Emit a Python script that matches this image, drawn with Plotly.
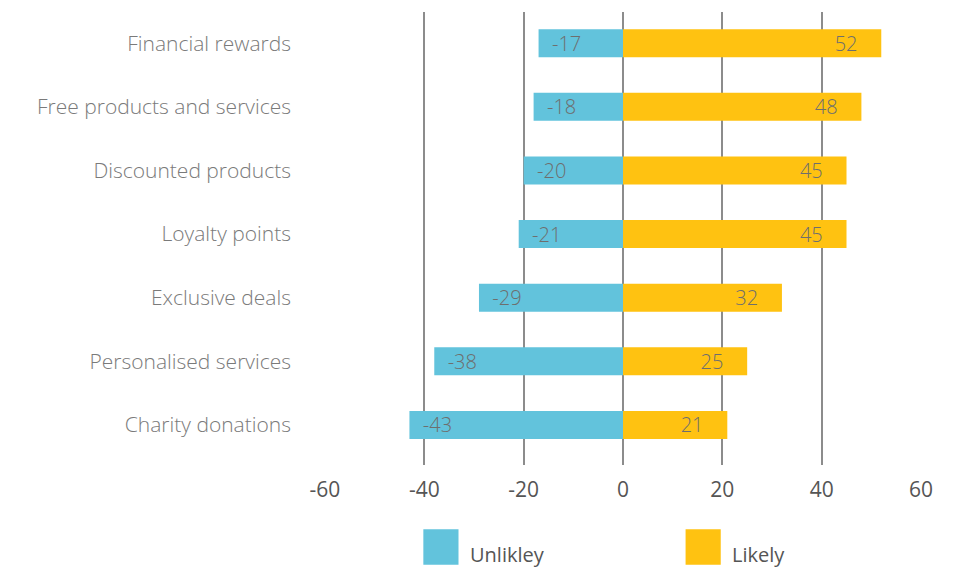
import plotly.graph_objects as go

categories = ["Financial rewards", "Free products and services", "Discounted products",
              "Loyalty points", "Exclusive deals", "Personalised services", "Charity donations"]
unlikely = [-17, -18, -20, -21, -29, -38, -43]
likely = [52, 48, 45, 45, 32, 25, 21]
series_names = ["Unlikley", "Likely"]
colors = ["#62C3DC", "#FFC211"]
x_ticks = [-60, -40, -20, 0, 20, 40, 60]

FONT = "Open Sans"
NB = "\u00a0"

fig = go.Figure()
fig.add_trace(go.Bar(y=categories, x=unlikely, orientation="h", name=series_names[0],
                     marker=dict(color=colors[0], line=dict(width=0)),
                     width=0.44, text=[NB * 2 + str(v) for v in unlikely],
                     textposition="inside", insidetextanchor="end", constraintext="none",
                     textfont=dict(family=FONT, size=20, color="#6e6e6e", weight=300),
                     showlegend=False))
fig.add_trace(go.Bar(y=categories, x=likely, orientation="h", name=series_names[1],
                     marker=dict(color=colors[1], line=dict(width=0)),
                     width=0.44, text=[str(v) + NB * 4 for v in likely],
                     textposition="inside", insidetextanchor="end", constraintext="none",
                     textfont=dict(family=FONT, size=20, color="#6e6e6e", weight=300),
                     showlegend=False))

# legend drawn as shapes + text
leg_x = [0.165, 0.605]
for i, name in enumerate(series_names):
    fig.add_shape(type="rect", xref="paper", yref="paper",
                  x0=leg_x[i], x1=leg_x[i] + 0.059, y0=-0.22, y1=-0.142,
                  fillcolor=colors[i], line=dict(width=0))
    fig.add_annotation(xref="paper", yref="paper", x=leg_x[i] + 0.075, y=-0.197,
                       text=name, showarrow=False, xanchor="left", yanchor="middle",
                       font=dict(family=FONT, size=20, color="#555555", weight=500))

fig.update_layout(
    barmode="relative",
    width=969, height=567,
    margin=dict(l=325, r=48, t=12, b=102),
    plot_bgcolor="white", paper_bgcolor="white",
    xaxis=dict(range=[-60, 60], tickvals=x_ticks, ticktext=[str(v) for v in x_ticks],
               showgrid=True, gridcolor="#8c8c8c",
               gridwidth=2, zeroline=True, zerolinecolor="#8c8c8c", zerolinewidth=2,
               tickfont=dict(family=FONT, size=21, color="#555555"),
               ticklabelstandoff=10, showline=False),
    yaxis=dict(range=[6.63, -0.49], showgrid=False, zeroline=False,
               tickfont=dict(family=FONT, size=21, color="#7a7a7a", weight=300),
               ticklabelstandoff=33, showline=False),
)

fig.write_html("out.html", config={"displayModeBar": False},
               post_script="document.body.style.margin='0';document.body.style.overflow='hidden';")
